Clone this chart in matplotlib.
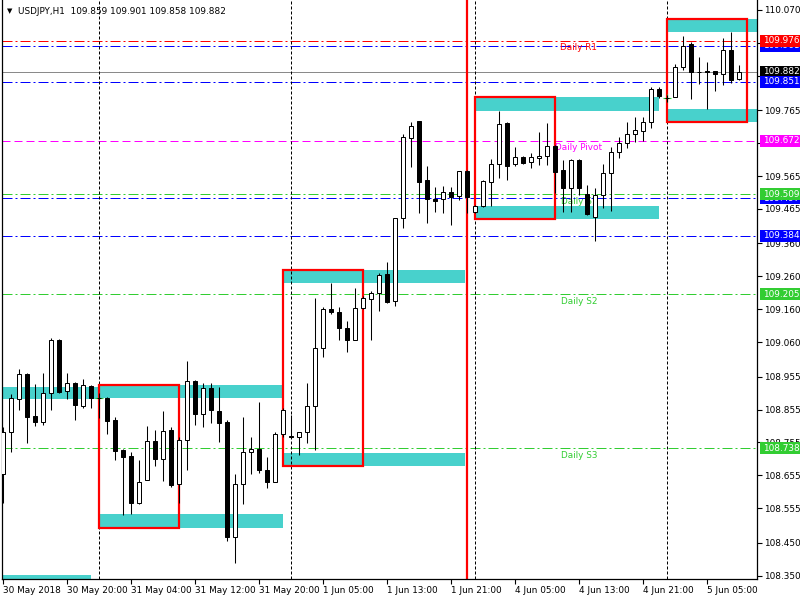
import matplotlib
matplotlib.use('Agg')
import matplotlib.pyplot as plt
import matplotlib.transforms as mtransforms
from matplotlib.patches import Rectangle

plt.rcParams['font.family'] = ['DejaVu Sans']
FS = 6.4

# USDJPY H1 bars (bar index 0 = 30 May 12:00)
opens = [108.659, 108.786, 108.887, 108.963, 108.836, 108.818, 108.905, 109.067, 108.910, 108.935,
         108.867, 108.927, 108.891, 108.890, 108.824, 108.732, 108.714, 108.572, 108.640, 108.760,
         108.704, 108.793, 108.628, 108.762, 108.942, 108.841, 108.920, 108.851, 108.818, 108.467,
         108.628, 108.725, 108.736, 108.671, 108.634, 108.780, 108.774, 108.771, 108.786, 108.866,
         109.042, 109.160, 109.151, 109.104, 109.065, 109.165, 109.192, 109.209, 109.267, 109.186,
         109.437, 109.680, 109.732, 109.553, 109.495, 109.494, 109.516, 109.504, 109.580, 109.457,
         109.474, 109.546, 109.601, 109.725, 109.601, 109.622, 109.607, 109.619, 109.626, 109.656,
         109.583, 109.528, 109.614, 109.510, 109.441, 109.507, 109.573, 109.637, 109.665, 109.692,
         109.703, 109.730, 109.829, 109.802, 109.804, 109.897, 109.966, 109.882, 109.884, 109.885,
         109.875, 109.948, 109.859]
highs = [108.803, 108.902, 108.979, 108.967, 108.933, 108.967, 109.073, 109.070, 108.967, 108.940,
         108.947, 108.930, 108.906, 108.892, 108.832, 108.734, 108.726, 108.702, 108.805, 108.793,
         108.851, 108.801, 108.773, 109.003, 108.945, 108.935, 108.935, 108.923, 108.822, 108.660,
         108.832, 108.771, 108.878, 108.711, 108.788, 108.859, 108.839, 108.786, 108.935, 109.193,
         109.166, 109.239, 109.166, 109.124, 109.224, 109.200, 109.214, 109.270, 109.303, 109.437,
         109.693, 109.730, 109.732, 109.596, 109.531, 109.535, 109.531, 109.580, 109.582, 109.476,
         109.553, 109.617, 109.763, 109.730, 109.654, 109.627, 109.634, 109.700, 109.725, 109.658,
         109.614, 109.617, 109.616, 109.538, 109.528, 109.601, 109.654, 109.683, 109.728, 109.744,
         109.744, 109.837, 109.835, 109.811, 109.906, 109.992, 109.973, 109.928, 109.912, 109.885,
         109.984, 110.004, 109.901]
lows = [108.570, 108.727, 108.854, 108.753, 108.806, 108.808, 108.854, 108.905, 108.887, 108.824,
        108.861, 108.861, 108.830, 108.781, 108.702, 108.535, 108.538, 108.569, 108.640, 108.682,
        108.639, 108.621, 108.570, 108.672, 108.808, 108.803, 108.814, 108.755, 108.454, 108.388,
        108.568, 108.660, 108.662, 108.616, 108.634, 108.773, 108.768, 108.717, 108.753, 108.732,
        109.014, 109.145, 109.067, 109.031, 109.065, 109.160, 109.067, 109.155, 109.178, 109.171,
        109.406, 109.593, 109.454, 109.423, 109.457, 109.454, 109.416, 109.492, 109.452, 109.452,
        109.470, 109.474, 109.560, 109.553, 109.596, 109.601, 109.589, 109.599, 109.599, 109.514,
        109.457, 109.457, 109.507, 109.445, 109.368, 109.469, 109.459, 109.621, 109.651, 109.669,
        109.671, 109.712, 109.803, 109.791, 109.804, 109.887, 109.799, 109.845, 109.768, 109.824,
        109.842, 109.847, 109.858]
closes = [108.786, 108.890, 108.963, 108.831, 108.818, 108.905, 109.067, 108.907, 108.935, 108.869,
          108.929, 108.891, 108.890, 108.821, 108.730, 108.712, 108.572, 108.634, 108.760, 108.705,
          108.790, 108.626, 108.762, 108.942, 108.841, 108.920, 108.853, 108.815, 108.469, 108.628,
          108.725, 108.735, 108.671, 108.634, 108.780, 108.853, 108.773, 108.786, 108.866, 109.042,
          109.160, 109.153, 109.104, 109.065, 109.163, 109.193, 109.209, 109.264, 109.183, 109.437,
          109.683, 109.717, 109.548, 109.494, 109.490, 109.516, 109.502, 109.580, 109.502, 109.474,
          109.550, 109.601, 109.722, 109.596, 109.622, 109.606, 109.622, 109.625, 109.656, 109.578,
          109.530, 109.614, 109.528, 109.449, 109.507, 109.573, 109.637, 109.666, 109.692, 109.705,
          109.730, 109.829, 109.809, 109.803, 109.897, 109.961, 109.880, 109.880, 109.880, 109.875,
          109.948, 109.857, 109.882]

x_labels = ['30 May 2018', '30 May 20:00', '31 May 04:00', '31 May 12:00', '31 May 20:00',
            '1 Jun 05:00', '1 Jun 13:00', '1 Jun 21:00', '4 Jun 05:00', '4 Jun 13:00',
            '4 Jun 21:00', '5 Jun 05:00']
x_label_bars = [0, 8, 16, 24, 32, 40, 48, 56, 64, 72, 80, 88]
day_starts = [12, 36, 59, 83]
day_open_marks = [(12, 108.891), (83, 109.802)]

y_ticks = [110.070, 109.970, 109.870, 109.765, 109.665, 109.565, 109.465, 109.360, 109.260,
           109.160, 109.060, 108.955, 108.855, 108.755, 108.655, 108.555, 108.450, 108.350]

# daily ranges: box bars, band end bar, top band (hi, lo), bottom band (hi, lo)
box_start = [-2, 12, 35, 59, 83]
box_end = [None, 22, 45, 69, 93]
band_end = [12, 35, 57.75, 82, 96]
bot_band_end = [11, 35, 57.75, 82, 96]
top_band = [(108.923, 108.887), (108.930, 108.891), (109.279, 109.241), (109.806, 109.764), (110.042, 110.004)]
bot_band = [(108.351, 108.310), (108.538, 108.496), (108.723, 108.684), (109.474, 109.435), (109.769, 109.729)]

# horizontal levels: price, colour, style (drawing order = label stacking order)
levels = [
    (109.961, 'blue', 'dashdot'),
    (109.976, 'red', 'dashdot'),
    (109.882, '#8a8a8a', 'solid'),
    (109.851, 'blue', 'dashdot'),
    (109.672, 'magenta', 'dash'),
    (109.497, 'blue', 'dashdot'),
    (109.509, 'limegreen', 'dashdot'),
    (109.384, 'blue', 'dashdot'),
    (109.205, 'limegreen', 'dashdot'),
    (108.738, 'limegreen', 'dashdot'),
]
label_colors = {'#8a8a8a': 'black'}
level_texts = [('Daily R1', 109.976, 'red'), ('Daily Pivot', 109.672, 'magenta'),
               ('Daily S1', 109.509, 'limegreen'), ('Daily S2', 109.205, 'limegreen'),
               ('Daily S3', 108.738, 'limegreen')]

CYAN = '#48D1CC'
px = 1 / 8.0                 # bar units per pixel
py = 0.003039                # price per pixel

fig = plt.figure(figsize=(8, 6), dpi=100)
ax = fig.add_axes([2 / 800, 21 / 600, 755 / 800, 579 / 600])
ax.set_xlim(-0.125, 94.25)
ax.set_ylim(108.340, 110.100)

# cyan bands and red boxes
for i in range(len(box_start)):
    s = box_start[i]
    hi, lo = top_band[i]
    ax.add_patch(Rectangle((s, lo), band_end[i] - s, hi - lo, color=CYAN, lw=0, zorder=1))
    hi2, lo2 = bot_band[i]
    ax.add_patch(Rectangle((s, lo2), bot_band_end[i] - s, hi2 - lo2, color=CYAN, lw=0, zorder=1))
    if box_end[i] is not None:
        ax.add_patch(Rectangle((s, lo2), box_end[i] - s, hi - lo2, fill=False,
                               edgecolor='red', lw=1.6, zorder=2))

# levels
dash_styles = {'dashdot': (0, (10, 3, 2, 3)), 'dash': (0, (8, 4)), 'solid': 'solid'}
for price, col, st in levels:
    ax.axhline(price, color=col, lw=0.72, linestyle=dash_styles[st], zorder=1.5)

for txt, price, col in level_texts:
    ax.text(72, price - 7 * py, txt, color=col, fontsize=FS, ha='center', va='center', zorder=2)

# day separators and red vertical line
for d in day_starts:
    ax.axvline(d, color='black', lw=0.72, linestyle=(0, (3, 2)), zorder=1.6)
ax.axvline(58, color='red', lw=1.6, zorder=2)

for b, p in day_open_marks:
    ax.plot(b, p, marker='+', color='limegreen', ms=6, mew=0.8, zorder=2.2)

# candles
xs = list(range(len(opens)))
ax.vlines(xs, lows, highs, color='black', lw=0.75, zorder=3)
for i in xs:
    o, c = opens[i], closes[i]
    face = 'white' if c >= o else 'black'
    ax.bar(i, abs(c - o), bottom=min(o, c), width=4 * px, color=face,
           edgecolor='black', linewidth=0.72, zorder=4)

# axes styling
ax.spines['top'].set_visible(False)
for sp in ['left', 'right', 'bottom']:
    ax.spines[sp].set_linewidth(0.9)
ax.yaxis.tick_right()
ax.set_yticks(y_ticks)
ax.set_yticklabels(['%.3f' % v for v in y_ticks], fontsize=FS)
ax.tick_params(axis='y', length=3.5, width=0.8, pad=1.5)
ax.set_xticks(x_label_bars)
ax.set_xticklabels(x_labels, fontsize=FS, ha='left')
ax.tick_params(axis='x', length=3.5, width=0.8, pad=1.5)

# price labels on the right scale, later ones stacked on top
blend = mtransforms.blended_transform_factory(ax.transAxes, ax.transData)
for k, (price, col, st) in enumerate(levels):
    bg = label_colors.get(col, col)
    ax.add_patch(Rectangle((1.0045, price - 6 * py), 40 / 755, 12 * py, transform=blend,
                           color=bg, lw=0, clip_on=False, zorder=5 + 2 * k))
    ax.text(1.0075, price, '%.3f' % price, transform=blend, color='white', fontsize=FS,
            ha='left', va='center', clip_on=False, zorder=6 + 2 * k)

fig.text(7 / 800, 1 - 11 / 600, '▼', fontsize=5, ha='left', va='center')
fig.text(18 / 800, 1 - 11 / 600, 'USDJPY,H1  109.859 109.901 109.858 109.882',
         fontsize=FS, ha='left', va='center')

fig.savefig('out.png', dpi=100)
